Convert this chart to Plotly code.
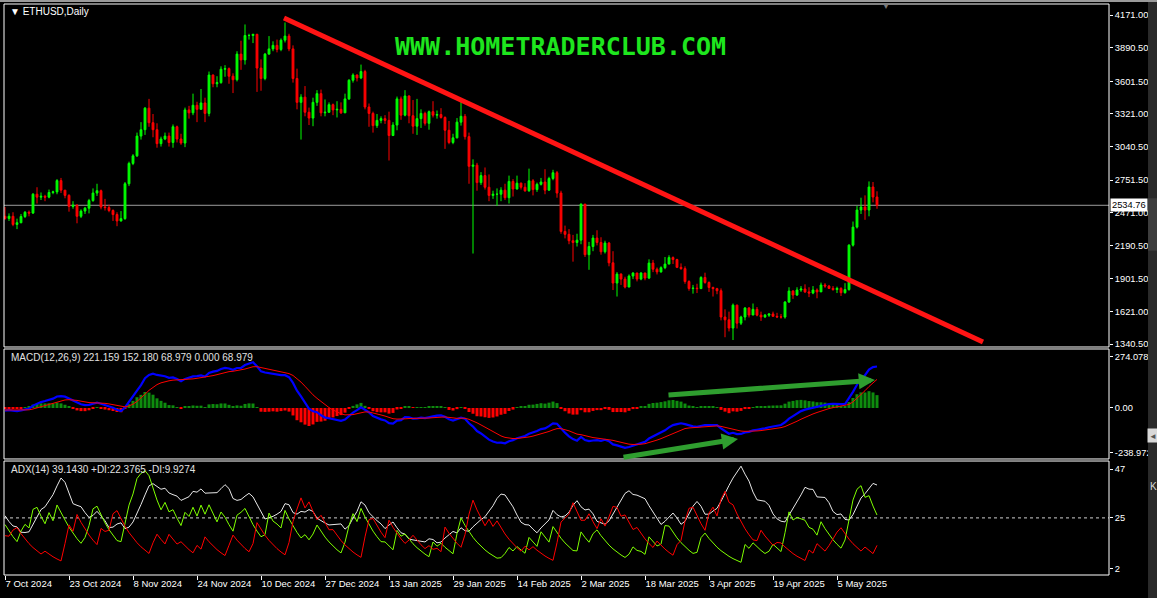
import plotly.graph_objects as go

# ── Velas diarias ETHUSD (7 Oct 2024 -> 15 May 2025) ──
FIRST_OPEN = 2440

close_oct = [2422, 2440, 2370, 2385, 2438, 2475, 2468, 2630, 2605, 2612, 2605, 2645, 2650,
             2747, 2665, 2620, 2525, 2535, 2440, 2485, 2510, 2575, 2640, 2660, 2520]
high_oct = [2520, 2465, 2475, 2420, 2460, 2485, 2490, 2640, 2690, 2645, 2625, 2670, 2660,
            2760, 2770, 2665, 2630, 2570, 2545, 2500, 2520, 2590, 2680, 2720, 2670]
low_oct = [2410, 2400, 2355, 2330, 2380, 2425, 2440, 2460, 2550, 2580, 2570, 2595, 2630,
           2630, 2640, 2595, 2480, 2505, 2380, 2425, 2460, 2465, 2565, 2615, 2500]

close_nov = [2515, 2490, 2455, 2400, 2420, 2720, 2895, 2960, 3130, 3185, 3370, 3245, 3185, 3065, 3105,
             3130, 3075, 3210, 3105, 3070, 3355, 3330, 3395, 3360, 3415, 3325, 3655, 3580, 3590, 3705]
high_nov = [2590, 2540, 2500, 2475, 2485, 2735, 2910, 2975, 3160, 3250, 3380, 3450, 3320, 3240, 3125,
            3160, 3160, 3230, 3220, 3150, 3375, 3390, 3495, 3425, 3535, 3460, 3685, 3660, 3645, 3730]
low_nov = [2490, 2475, 2400, 2355, 2395, 2410, 2700, 2880, 2950, 3100, 3140, 3210, 3120, 3030, 3040,
           3095, 3040, 3030, 3075, 3055, 3035, 3280, 3310, 3250, 3360, 3250, 3300, 3550, 3550, 3580]

# diciembre sin el 25
close_dec = [3710, 3645, 3615, 3835, 3785, 3995, 3995, 4005, 3715, 3625, 3835, 3880, 3910, 3875, 3955,
             3990, 3880, 3625, 3420, 3465, 3335, 3285, 3420, 3495, 3330, 3335, 3400, 3355, 3360, 3330]
high_dec = [3740, 3720, 3670, 3860, 3950, 4090, 4010, 4010, 4010, 3790, 3845, 3990, 3945, 3960, 3970,
            4107, 4010, 3910, 3710, 3490, 3560, 3375, 3460, 3525, 3530, 3445, 3420, 3410, 3430, 3420]
low_dec = [3640, 3580, 3500, 3600, 3700, 3745, 3960, 3930, 3510, 3520, 3610, 3830, 3860, 3850, 3860,
           3935, 3860, 3590, 3360, 3100, 3300, 3225, 3215, 3390, 3300, 3300, 3330, 3310, 3290, 3320]

# enero sin el 1
close_jan = [3450, 3610, 3655, 3630, 3685, 3380, 3325, 3220, 3265, 3280, 3265, 3135, 3225, 3450, 3310,
             3475, 3305, 3215, 3280, 3325, 3240, 3340, 3310, 3315, 3290, 3180, 3075, 3115, 3250, 3300]
high_jan = [3495, 3620, 3670, 3660, 3745, 3700, 3410, 3340, 3320, 3300, 3310, 3340, 3250, 3470, 3470,
            3525, 3480, 3440, 3450, 3360, 3340, 3350, 3430, 3350, 3370, 3300, 3260, 3150, 3285, 3440]
low_jan = [3330, 3440, 3590, 3600, 3620, 3360, 3210, 3160, 3200, 3240, 3235, 2920, 3130, 3180, 3270,
           3300, 3240, 3150, 3140, 3200, 3220, 3185, 3290, 3280, 3280, 3020, 3060, 3060, 3110, 3220]

close_feb = [3125, 2870, 2880, 2730, 2790, 2690, 2620, 2630, 2630, 2665, 2600, 2740, 2675, 2725,
             2690, 2660, 2745, 2670, 2715, 2735, 2665, 2765, 2815, 2640, 2310, 2285, 2230, 2215]
high_feb = [3320, 3160, 2930, 2900, 2820, 2860, 2800, 2660, 2680, 2690, 2720, 2790, 2760, 2790,
            2730, 2725, 2850, 2760, 2730, 2770, 2845, 2780, 2840, 2830, 2660, 2360, 2330, 2280]
low_feb = [3100, 2720, 2120, 2660, 2710, 2670, 2570, 2590, 2530, 2570, 2580, 2550, 2610, 2670,
           2670, 2650, 2650, 2620, 2650, 2705, 2630, 2660, 2750, 2600, 2290, 2250, 2200, 2050]

close_mar = [2235, 2545, 2110, 2180, 2253, 2215, 2135, 2210, 2040, 1866, 1943, 1900, 1832, 1926, 1952, 1900,
             1952, 1909, 2038, 1985, 1962, 1998, 2029, 2085, 2068, 2001, 1990, 1879, 1819, 1822, 1818]
high_mar = [2290, 2550, 2545, 2220, 2280, 2320, 2260, 2230, 2220, 2140, 1960, 1950, 1920, 1940, 1960, 1955,
            1960, 1955, 2070, 2065, 2000, 2010, 2090, 2105, 2095, 2075, 2035, 2010, 1890, 1850, 1860]
low_mar = [2180, 2200, 2090, 1980, 2140, 2190, 2110, 2120, 2010, 1806, 1750, 1850, 1820, 1830, 1900, 1880,
           1890, 1890, 1900, 1960, 1940, 1955, 1985, 2040, 2030, 1995, 1980, 1860, 1800, 1775, 1780]

close_apr = [1914, 1871, 1828, 1818, 1800, 1574, 1550, 1479, 1676, 1521, 1574, 1651, 1591, 1640, 1590,
             1575, 1590, 1600, 1580, 1575, 1574, 1703, 1797, 1763, 1806, 1815, 1790, 1780, 1806, 1790]
high_apr = [1925, 1955, 1880, 1835, 1825, 1820, 1640, 1620, 1690, 1680, 1585, 1660, 1660, 1690, 1660,
            1620, 1600, 1605, 1620, 1610, 1600, 1710, 1830, 1805, 1830, 1840, 1855, 1830, 1840, 1820]
low_apr = [1815, 1860, 1790, 1750, 1770, 1545, 1400, 1450, 1376, 1475, 1505, 1545, 1570, 1590, 1580,
           1540, 1565, 1575, 1575, 1565, 1560, 1560, 1695, 1730, 1755, 1790, 1780, 1745, 1770, 1735]

close_may = [1849, 1840, 1820, 1810, 1820, 1783, 1810, 2192, 2347, 2494, 2520, 2494, 2692, 2606, 2534.76]
high_may = [1870, 1865, 1850, 1840, 1835, 1830, 1865, 2200, 2395, 2530, 2600, 2620, 2740, 2735, 2655]
low_may = [1790, 1825, 1815, 1800, 1780, 1755, 1775, 1800, 2180, 2335, 2460, 2410, 2440, 2560, 2505]

close = close_oct + close_nov + close_dec + close_jan + close_feb + close_mar + close_apr + close_may
high = high_oct + high_nov + high_dec + high_jan + high_feb + high_mar + high_apr + high_may
low = low_oct + low_nov + low_dec + low_jan + low_feb + low_mar + low_apr + low_may
open_ = [FIRST_OPEN] + close[:-1]
high = [max(h, o, c) for h, o, c in zip(high, open_, close)]
low = [min(l, o, c) for l, o, c in zip(low, open_, close)]
bars = list(range(len(close)))

BID = 2534.76

# eje de tiempo (una etiqueta cada 16 velas)
tick_bars = [0, 16, 32, 48, 64, 80, 96, 112, 128, 144, 160, 176, 192, 208]
tick_dates = ["7 Oct 2024", "23 Oct 2024", "8 Nov 2024", "24 Nov 2024", "10 Dec 2024",
              "27 Dec 2024", "13 Jan 2025", "29 Jan 2025", "14 Feb 2025", "2 Mar 2025",
              "18 Mar 2025", "3 Apr 2025", "19 Apr 2025", "5 May 2025"]

price_ticks = [4171.00, 3890.50, 3601.50, 3321.00, 3040.50, 2751.50,
               2471.00, 2190.50, 1901.50, 1621.00, 1340.50]
macd_ticks = [274.078, 0.0, -238.972]
macd_ticktext = ["274.078", "0.00", "-238.972"]
adx_ticks = [47, 25, 2]

# valores iniciales de los indicadores (leidos al inicio del grafico)
MACD_START, SIGNAL_START = -15.0, -10.0
ADX_START, PDI_START, MDI_START = 28.0, 22.0, 17.0

# lineas dibujadas a mano en el grafico: (barra, valor)
trend_line = [(69.75, 4146), (244.5, 1359)]
macd_arrows = [((165.5, 69), (217.5, 150)), ((154.25, -266), (183.25, -166))]


# ── Indicadores ─────────────────────────────────────────────
def ema(values, period, seed):
    k = 2.0 / (period + 1)
    out, prev = [], seed
    for v in values:
        prev += k * (v - prev)
        out.append(prev)
    return out


fast = ema(close, 12, close[0])
slow = ema(close, 26, close[0] - MACD_START)
macd = [f - s for f, s in zip(fast, slow)]
signal = ema(macd, 9, SIGNAL_START)
hist = [m - s for m, s in zip(macd, signal)]

psdi, msdi = [PDI_START], [MDI_START]
for i in range(1, len(close)):
    up = max(high[i] - high[i - 1], 0)
    dn = max(low[i - 1] - low[i], 0)
    if up == dn:
        up = dn = 0
    elif up < dn:
        up = 0
    else:
        dn = 0
    tr = max(high[i] - low[i], abs(high[i] - close[i - 1]), abs(low[i] - close[i - 1]))
    psdi.append(100 * up / tr if tr else 0)
    msdi.append(100 * dn / tr if tr else 0)
pdi = ema(psdi, 14, PDI_START)
mdi = ema(msdi, 14, MDI_START)
dx = [100 * abs(p - m) / (p + m) if (p + m) else 0 for p, m in zip(pdi, mdi)]
adx = ema(dx, 14, ADX_START)

# ── Figura ──────────────────────────────────────────────────
FONT = "Tahoma, Liberation Sans, Arial"
WHITE = "#ffffff"

fig = go.Figure()

fig.add_trace(go.Candlestick(
    x=bars, open=open_, high=high, low=low, close=close,
    xaxis="x", yaxis="y",
    increasing=dict(line=dict(color="#00ff00", width=1), fillcolor="#00ff00"),
    decreasing=dict(line=dict(color="#ff0000", width=1), fillcolor="#ff0000"),
    whiskerwidth=0, hoverinfo="skip",
))

fig.add_trace(go.Bar(
    x=bars, y=hist, xaxis="x", yaxis="y2", width=0.75,
    marker=dict(color=["#0e8c0e" if h >= 0 else "#ff0000" for h in hist], line_width=0),
    hoverinfo="skip",
))
fig.add_trace(go.Scatter(x=bars, y=macd, xaxis="x", yaxis="y2", mode="lines",
                         line=dict(color="#0000ff", width=2.2), hoverinfo="skip"))
fig.add_trace(go.Scatter(x=bars, y=signal, xaxis="x", yaxis="y2", mode="lines",
                         line=dict(color="#ff0000", width=1), hoverinfo="skip"))

fig.add_trace(go.Scatter(x=bars, y=adx, xaxis="x", yaxis="y3", mode="lines",
                         line=dict(color="#e8e8e8", width=1), hoverinfo="skip"))
fig.add_trace(go.Scatter(x=bars, y=pdi, xaxis="x", yaxis="y3", mode="lines",
                         line=dict(color="#7fff00", width=1), hoverinfo="skip"))
fig.add_trace(go.Scatter(x=bars, y=mdi, xaxis="x", yaxis="y3", mode="lines",
                         line=dict(color="#ff0000", width=1), hoverinfo="skip"))

_YAX = dict(side="right", anchor="x", showgrid=False, zeroline=False, showline=False,
            ticks="outside", ticklen=3, tickcolor=WHITE, fixedrange=True, automargin=False,
            tickfont=dict(color=WHITE, size=9.3, family=FONT))

fig.update_layout(
    width=1157, height=598,
    margin=dict(l=4, r=48, t=4, b=23, autoexpand=False),
    paper_bgcolor="#000000", plot_bgcolor="#000000",
    showlegend=False, boxgap=0.35,
    xaxis=dict(domain=[0, 1], anchor="y3", range=[-0.25, 276], showgrid=False,
               zeroline=False, showline=False, rangeslider=dict(visible=False),
               tickmode="array", tickvals=tick_bars, ticktext=tick_dates,
               ticks="outside", ticklen=4, tickcolor=WHITE, tickangle=0,
               ticklabelposition="outside right", automargin=False, fixedrange=True,
               tickfont=dict(color=WHITE, size=9.5, family=FONT)),
    yaxis=dict(domain=[0.3993, 1.0], range=[1316, 4266], tickmode="array",
               tickvals=price_ticks, ticktext=[f"{v:.2f}" for v in price_ticks], **_YAX),
    yaxis2=dict(domain=[0.2032, 0.3958], range=[-274, 317], tickmode="array",
                tickvals=macd_ticks, ticktext=macd_ticktext, **_YAX),
    yaxis3=dict(domain=[0.0, 0.1996], range=[-0.7, 50.6], tickmode="array",
                tickvals=adx_ticks, ticktext=[str(v) for v in adx_ticks], **_YAX),
)

shapes = []
# marcos de los tres paneles
for yr in ("y domain", "y2 domain", "y3 domain"):
    shapes.append(dict(type="rect", xref="paper", yref=yr, x0=0, x1=1, y0=0, y1=1,
                       line=dict(color=WHITE, width=1)))
# linea del precio actual
shapes.append(dict(type="line", xref="paper", yref="y", x0=0, x1=1, y0=BID, y1=BID,
                   line=dict(color="#9c9c9c", width=1), layer="below"))
# nivel 25 del ADX
shapes.append(dict(type="line", xref="paper", yref="y3", x0=0, x1=1, y0=25, y1=25,
                   line=dict(color="#d0d0d0", width=1, dash="3px,3px"), layer="below"))
# linea de tendencia bajista
(tx0, ty0), (tx1, ty1) = trend_line
shapes.append(dict(type="line", xref="x", yref="y", x0=tx0, y0=ty0, x1=tx1, y1=ty1,
                   line=dict(color="#ff1414", width=5)))
# borde de la ventana (barra gris derecha y superior)
shapes.append(dict(type="rect", xref="paper", yref="paper", x0=1.0353, x1=1.05, y0=-0.05, y1=1.01,
                   fillcolor="#2a2a2a", line_width=0))
shapes.append(dict(type="rect", xref="paper", yref="paper", x0=1.0353, x1=1.05, y0=0.568, y1=0.66,
                   fillcolor="#3d3d3d", line_width=0))
shapes.append(dict(type="rect", xref="paper", yref="paper", x0=-0.01, x1=1.05, y0=1.0035, y1=1.01,
                   fillcolor="#9a9a9a", line_width=0))
fig.update_layout(shapes=shapes)

annotations = [
    dict(xref="paper", yref="paper", x=0.004, y=0.986, xanchor="left", yanchor="middle",
         text="\u25bc ETHUSD,Daily", showarrow=False,
         font=dict(color=WHITE, size=10, family=FONT)),
    dict(xref="paper", yref="y2 domain", x=0.0045, y=0.925, xanchor="left", yanchor="middle",
         text="MACD(12,26,9) 221.159 152.180 68.979 0.000 68.979", showarrow=False,
         font=dict(color="#e0e0e0", size=10, family=FONT)),
    dict(xref="paper", yref="y3 domain", x=0.0045, y=0.93, xanchor="left", yanchor="middle",
         text="ADX(14) 39.1430 +DI:22.3765 -DI:9.9274", showarrow=False,
         font=dict(color="#e0e0e0", size=10, family=FONT)),
    dict(xref="paper", yref="paper", x=0.504, y=0.926, xanchor="center", yanchor="middle",
         text="<b>WWW.HOMETRADERCLUB.COM</b>", showarrow=False,
         font=dict(color="#1ee61e", size=25, family="DejaVu Sans Mono")),
    dict(xref="paper", yref="y", x=1.001, y=BID, xanchor="left", yanchor="middle",
         text="2534.76", showarrow=False, bgcolor=WHITE, borderpad=1,
         font=dict(color="#000000", size=9.3, family=FONT)),
    dict(xref="paper", yref="paper", x=0.7982, y=0.9965, xanchor="center", yanchor="middle",
         text="\u25bc", showarrow=False, font=dict(color="#7a7a7a", size=8)),
    dict(xref="paper", yref="paper", x=1.0395, y=0.245, xanchor="center", yanchor="middle",
         text="\u25c4", showarrow=False, bgcolor="#d8d8d8",
         font=dict(color="#555555", size=8)),
    dict(xref="paper", yref="paper", x=1.0405, y=0.155, xanchor="center", yanchor="middle",
         text="K", showarrow=False, font=dict(color="#d8d8d8", size=10, family=FONT)),
]
for (ax, ay), (hx, hy) in macd_arrows:
    annotations.append(dict(xref="x", yref="y2", axref="x", ayref="y2",
                            x=hx, y=hy, ax=ax, ay=ay, text="", showarrow=True,
                            arrowhead=2, arrowsize=0.65, arrowwidth=5,
                            arrowcolor="#2f9e2f"))
fig.update_layout(annotations=annotations)

# la pagina no debe desplazar el grafico (margen por defecto del body)
fig.write_html("out.html", config={"displayModeBar": False},
               post_script="document.body.style.margin='0';")
